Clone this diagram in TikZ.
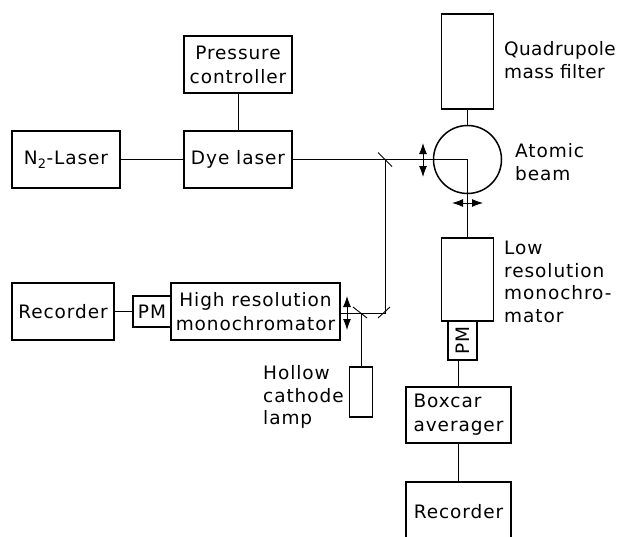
\documentclass[tikz,border=0pt]{standalone}
\usepackage{fontspec}
\setmainfont{DejaVu Sans}[LetterSpace=5]
\newfontfamily\narrowfont{DejaVu Sans}[LetterSpace=2]
\usetikzlibrary{arrows.meta}
\begin{document}
\begin{tikzpicture}[x=1pt,y=-1pt,
  box/.style={draw,line width=1.5pt,inner sep=0pt,font=\fontsize{18.5}{24}\selectfont,align=center},
  conn/.style={line width=0.8pt},
  mirror/.style={line width=0.9pt},
  lbl/.style={font=\fontsize{18.5}{23}\selectfont,inner sep=0pt,anchor=base west},
  nlbl/.style={font=\narrowfont\fontsize{18.5}{23}\selectfont,inner sep=0pt,anchor=base west},
  dbl/.style={line width=0.9pt,{Latex[length=11pt,width=8pt]}-{Latex[length=11pt,width=8pt]}}
]
\useasboundingbox (0,0) rectangle (618,536);
\clip (0,0) rectangle (618,536);

% boxes
\node[box,minimum width=108pt,minimum height=57pt] (press) at (238,64.5) {Pressure\\controller};
\node[box,minimum width=108pt,minimum height=57pt] (dye) at (238,159.5) {Dye laser};
\node[box,minimum width=108pt,minimum height=57pt] (n2) at (66,159.5) {N\textsubscript{2}-Laser};
\node[box,minimum width=52pt,minimum height=95pt] (quad) at (467.5,61.5) {};
\node[draw,circle,line width=1.5pt,minimum size=68pt,inner sep=0pt] (beam) at (467.5,159.5) {};
\node[box,minimum width=52pt,minimum height=83pt] (lowres) at (467.5,279.5) {};
\node[box,minimum width=29pt,minimum height=39pt] (pm2) at (462.5,340.5) {\rotatebox{90}{PM}};
\node[box,minimum width=105pt,minimum height=56pt,align=left] (boxcar) at (458.5,415) {Boxcar\\averager};
\node[box,minimum width=105pt,minimum height=60pt] (rec2) at (458.5,512) {Recorder};
\node[box,minimum width=169pt,minimum height=57pt] (highres) at (255.5,311.5) {High resolution\\monochromator};
\node[box,minimum width=38pt,minimum height=31pt] (pm1) at (152,311.5) {PM};
\node[box,minimum width=102pt,minimum height=57pt] (rec1) at (63,311.5) {Recorder};
\node[box,minimum width=23pt,minimum height=50pt] (lamp) at (361,392) {};

% labels
\node[nlbl] (q1) at (504,55) {Quadrupole};
\node[nlbl] (q2) at (504,78) {mass filter};
\node[lbl] (a1) at (515,157) {Atomic};
\node[lbl] (a2) at (515,180) {beam};
\node[lbl] (l1) at (504,254) {Low};
\node[lbl] (l2) at (504,277) {resolution};
\node[lbl] (l3) at (504,299) {monochro-};
\node[lbl] (l4) at (504,322) {mator};
\node[lbl] (h1) at (263,379) {Hollow};
\node[lbl] (h2) at (263,402) {cathode};
\node[lbl] (h3) at (263,424) {lamp};

% mirrors
\coordinate (m1) at (385,159.5);
\coordinate (m2) at (385,313);
\coordinate (m3) at (361,313);

% connectors
\draw[conn] (n2) -- (dye);
\draw[conn] (press) -- (dye);
\draw[conn] (quad) -- (beam);
\draw[conn] (rec1) -- (pm1);
\draw[conn] (dye.east) -- (m1) -- (beam.center) -- (lowres.north);
\draw[conn] (m1) -- (m2) -- (highres.east |- m2);
\draw[conn] (m3) -- (lamp.north);
\draw[conn] (boxcar.north |- pm2.south) -- (boxcar.north);
\draw[conn] (boxcar) -- (rec2);

\draw[mirror] ([shift={(-7,-7)}]m1) -- ([shift={(7,7)}]m1);
\draw[mirror] ([shift={(-7,5)}]m2) -- ([shift={(5,-6)}]m2);
\draw[mirror] ([shift={(-8,-6)}]m3) -- ([shift={(6,5)}]m3);

% double arrows
\coordinate (a1t) at (423,143);
\coordinate (a1b) at (423,177);
\coordinate (a2l) at (452,203);
\coordinate (a2r) at (483,203);
\coordinate (a3t) at (347,296);
\coordinate (a3b) at (347,330);
\draw[dbl] (a1t) -- (a1b);
\draw[dbl] (a2l) -- (a2r);
\draw[dbl] (a3t) -- (a3b);
\end{tikzpicture}
\end{document}
